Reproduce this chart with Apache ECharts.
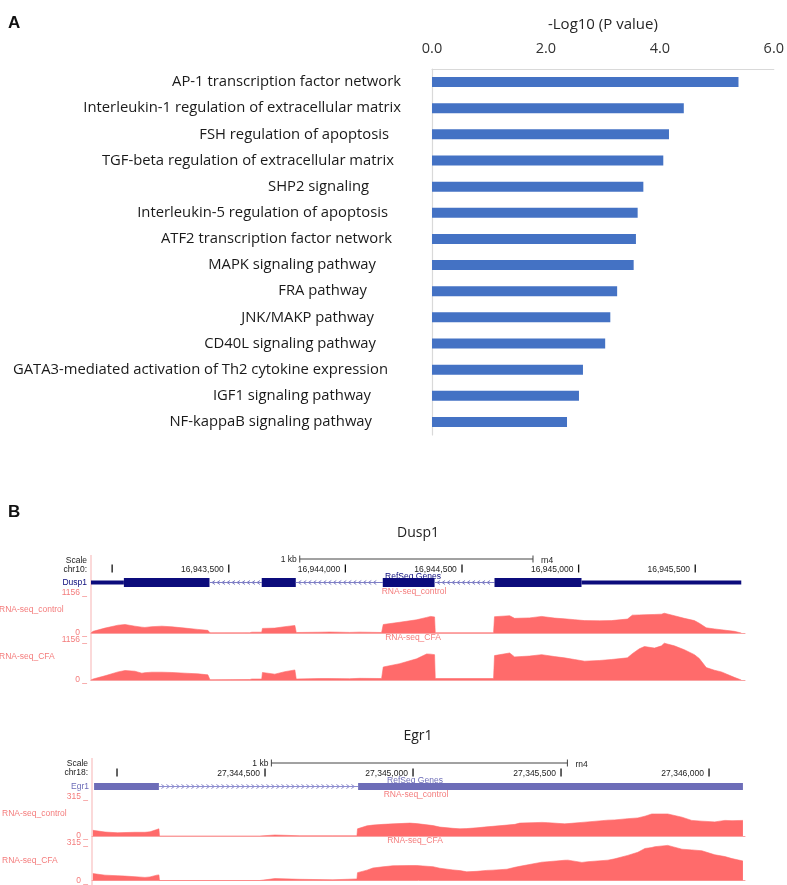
<!DOCTYPE html>
<html><head><meta charset="utf-8">
<script src="https://cdn.jsdelivr.net/npm/echarts@6/dist/echarts.min.js"></script>
<style>html,body{margin:0;padding:0;background:#fff}#c{width:787px;height:885px}</style>
</head><body><div id="c"></div>
<script>
// ---------- Panel A data ----------
const pathways = [
  'AP-1 transcription factor network',
  'Interleukin-1 regulation of extracellular matrix',
  'FSH regulation of apoptosis',
  'TGF-beta regulation of extracellular matrix',
  'SHP2 signaling',
  'Interleukin-5 regulation of apoptosis',
  'ATF2 transcription factor network',
  'MAPK signaling pathway',
  'FRA pathway',
  'JNK/MAKP pathway',
  'CD40L signaling pathway',
  'GATA3-mediated activation of Th2 cytokine expression',
  'IGF1 signaling pathway',
  'NF-kappaB signaling pathway'
];
const negLog10P = [5.38, 4.42, 4.16, 4.06, 3.71, 3.61, 3.58, 3.54, 3.25, 3.13, 3.04, 2.65, 2.58, 2.37];
const pAxisName = '-Log10 (P value)';

// ---------- Panel B data ----------
const trackNames = ['RNA-seq_control', 'RNA-seq_CFA'];
const assembly = 'rn4';
const scaleLabel = '1 kb';

// Dusp1 (chr10)
const dusp1Chrom = 'chr10:';
const dusp1RegionStart = 16942910, dusp1RegionEnd = 16945714;
const dusp1Max = 1156;
const dusp1Ticks = [16943000, 16943500, 16944000, 16944500, 16945000, 16945500];
const dusp1ScaleBar = [16943805, 16944805];
const dusp1Cds = [[141, 508], [732, 878], [1251, 1473], [1730, 2103]];
const dusp1Utr = [[0, 141], [2103, 2788]];
const dusp1CovPos = [0, 9, 60, 116, 146, 188, 218, 231, 261, 304, 347, 403, 458, 501, 508, 510, 681, 690, 732, 735,
  788, 831, 874, 878, 880, 981, 1024, 1109, 1152, 1246, 1251, 1253, 1323, 1396, 1439, 1456, 1473, 1476, 1726, 1730,
  1795, 1816, 1880, 1932, 1987, 2030, 2073, 2116, 2180, 2231, 2300, 2321, 2351, 2373, 2416, 2446, 2458, 2501, 2544, 2587,
  2608, 2638, 2673, 2703, 2758, 2788];
const dusp1Ctrl = [0, 48, 141, 226, 245, 197, 169, 161, 183, 197, 178, 141, 104, 76, 76, 6, 8, 23, 23, 133,
  141, 183, 217, 217, 14, 23, 28, 17, 25, 14, 14, 245, 310, 381, 451, 479, 465, 8, 8, 471,
  499, 423, 437, 479, 431, 409, 386, 358, 353, 358, 403, 516, 522, 527, 536, 544, 572, 499, 423, 358,
  282, 149, 118, 93, 48, 0];
const dusp1Cfa = [0, 28, 121, 234, 274, 254, 197, 212, 226, 226, 217, 197, 178, 149, 149, 8, 14, 28, 28, 217,
  169, 240, 290, 290, 28, 42, 42, 37, 48, 42, 42, 375, 471, 612, 753, 747, 733, 42, 42, 705,
  781, 668, 691, 733, 677, 640, 592, 544, 564, 592, 640, 761, 902, 967, 922, 987, 1063, 987, 874, 733,
  620, 358, 282, 234, 76, 0];

// Egr1 (chr18)
const egr1Chrom = 'chr18:';
const egr1RegionStart = 27343916, egr1RegionEnd = 27346122;
const egr1Max = 315;
const egr1Ticks = [27344000, 27344500, 27345000, 27345500, 27346000];
const egr1ScaleBar = [27344522, 27345522];
const egr1Cds = [[7, 226], [899, 2199]];
const egr1Utr = [];
const egr1CovPos = [3, 44, 87, 111, 145, 179, 196, 219, 226, 228, 567, 571, 618, 621, 702, 814, 895, 897, 929, 949,
  983, 1017, 1074, 1097, 1118, 1152, 1175, 1219, 1243, 1266, 1300, 1334, 1354, 1402, 1429, 1445, 1520, 1540, 1597, 1608,
  1655, 1675, 1743, 1766, 1810, 1844, 1868, 1891, 1901, 1945, 1993, 2026, 2060, 2104, 2138, 2162, 2199];
const egr1Ctrl = [46, 32, 26, 28, 30, 30, 34, 52, 58, 0, 0, 8, 8, 2, 2, 2, 2, 58, 82, 88,
  94, 98, 104, 100, 94, 84, 72, 62, 58, 60, 66, 74, 78, 88, 94, 104, 110, 108, 98, 100,
  110, 114, 128, 130, 140, 146, 160, 178, 178, 178, 152, 126, 120, 114, 126, 124, 126];
const egr1Cfa = [58, 45, 40, 37, 32, 26, 30, 45, 47, 0, 0, 16, 16, 14, 10, 6, 13, 66, 87, 105,
  115, 124, 126, 126, 122, 116, 103, 89, 83, 73, 77, 85, 87, 95, 111, 119, 154, 158, 170, 171,
  152, 158, 171, 182, 211, 237, 269, 277, 284, 295, 263, 257, 250, 216, 201, 184, 164];

// ---------- styles / helpers ----------
const SANS = 'Liberation Sans, Arial, sans-serif';
const OPEN = 'Open Sans, Noto Sans, sans-serif';
const PINK = '#f47c7c';
const COV = '#ff6b6b';
const LINEPINK = '#f7b3b3';
const NAVY = '#0c0c7c';
const LAV = '#6d6db8';
// extra right gap (px) of each category label, as laid out in the original figure
const labelRightGap = [0, 0, 12, 7, 32, 13, 9, 25, 34, 27, 25, 13, 30, 29];

function covData(start, pos, vals) { return pos.map((p, i) => [start + p, vals[i]]); }
function geneBlocks(start, cds, utr) {
  const ex = cds.map(b => [b[0], b[1], 1]).concat(utr.map(b => [b[0], b[1], 0])).sort((a, b) => a[0] - b[0]);
  const out = [];
  ex.forEach((b, i) => {
    if (i > 0 && b[0] > ex[i - 1][1]) out.push([start + ex[i - 1][1], start + b[0], 2]);
    out.push([start + b[0], start + b[1], b[2]]);
  });
  return out;
}
const ROW_SCALE = 6, ROW_RULER = 15.5, ROW_GENE = 29.5;
function geneRender(color, intronColor, cdsH, utrH, dir) {
  return function (params, api) {
    const s = api.coord([api.value(0), ROW_GENE]);
    const e = api.coord([api.value(1), ROW_GENE]);
    const kind = api.value(2);
    if (kind === 2) {
      const ch = [{ type: 'line', shape: { x1: s[0], y1: s[1], x2: e[0], y2: e[1] }, style: { stroke: intronColor, lineWidth: 1 } }];
      for (let x = s[0] + 4; x < e[0] - 3; x += 5) {
        ch.push({ type: 'polyline', shape: { points: [[x - dir * 1.5, s[1] - 2], [x + dir * 1.5, s[1]], [x - dir * 1.5, s[1] + 2]] },
          style: { stroke: intronColor, fill: null, lineWidth: 1 } });
      }
      return { type: 'group', children: ch };
    }
    const h = kind === 1 ? cdsH : utrH;
    return { type: 'rect', shape: { x: s[0], y: s[1] - h / 2, width: e[0] - s[0], height: h }, style: { fill: color } };
  };
}
function rulerRender(params, api) {
  const p = api.coord([api.value(0), ROW_RULER]);
  const ch = [{ type: 'rect', shape: { x: p[0] - 0.5, y: p[1] - 4, width: 1.3, height: 8 }, style: { fill: '#111' } }];
  if (params.dataIndex > 0) {
    ch.push({ type: 'text', style: { text: api.value(0).toLocaleString('en-US'), x: p[0] - 5, y: p[1] + 1,
      align: 'right', verticalAlign: 'middle', font: '8.5px ' + SANS, fill: '#222' } });
  }
  return { type: 'group', children: ch };
}
function scaleRender(params, api) {
  const a = api.coord([api.value(0), ROW_SCALE]);
  const b = api.coord([api.value(1), ROW_SCALE]);
  return { type: 'group', children: [
    { type: 'line', shape: { x1: a[0], y1: a[1], x2: b[0], y2: b[1] }, style: { stroke: '#444', lineWidth: 1 } },
    { type: 'line', shape: { x1: a[0], y1: a[1] - 3.5, x2: a[0], y2: a[1] + 3.5 }, style: { stroke: '#444', lineWidth: 1 } },
    { type: 'line', shape: { x1: b[0], y1: b[1] - 3.5, x2: b[0], y2: b[1] + 3.5 }, style: { stroke: '#444', lineWidth: 1 } },
    { type: 'text', style: { text: scaleLabel, x: a[0] - 3, y: a[1] + 0.5, align: 'right', verticalAlign: 'middle', font: '8.5px ' + SANS, fill: '#222' } },
    { type: 'text', style: { text: assembly, x: b[0] + 8, y: b[1] + 2, align: 'left', verticalAlign: 'middle', font: '8.5px ' + SANS, fill: '#222' } }
  ] };
}

// ---------- layout ----------
const blocks = [
  { start: dusp1RegionStart, end: dusp1RegionEnd, left: 91, width: 654, headTop: 553, tracks: [[593, 40], [640, 40]], max: dusp1Max },
  { start: egr1RegionStart, end: egr1RegionEnd, left: 92, width: 653, headTop: 757, tracks: [[797, 39], [843, 40]], max: egr1Max }
];

const grid = [{ left: 432, top: 69, width: 345, height: 366 }];
const xAxis = [{
  gridIndex: 0, type: 'value', position: 'top', min: 0, max: 6, interval: 2,
  name: pAxisName, nameLocation: 'middle', nameGap: 37,
  nameTextStyle: { fontFamily: OPEN, fontSize: 15, color: '#262626' },
  axisLabel: { formatter: v => v.toFixed(1), fontFamily: OPEN, fontSize: 14.5, color: '#333', margin: 13 },
  axisLine: { show: true, lineStyle: { color: '#d9d9d9', width: 1.2 } },
  axisTick: { show: false }, splitLine: { show: false }
}];
const yAxis = [{
  gridIndex: 0, type: 'category', inverse: true,
  data: pathways.map((p, i) => ({ value: p, textStyle: { padding: [0, labelRightGap[i], 0, 0] } })),
  axisLabel: { fontFamily: OPEN, fontSize: 14.8, color: '#1a1a1a', margin: 31 },
  axisLine: { show: true, lineStyle: { color: '#d9d9d9', width: 1.2 } },
  axisTick: { show: false }
}];
const series = [{
  type: 'bar', xAxisIndex: 0, yAxisIndex: 0, data: negLog10P, barWidth: 10,
  itemStyle: { color: '#4472c4' }, silent: true
}];

const covSets = [[dusp1CovPos, dusp1Ctrl, dusp1Cfa], [egr1CovPos, egr1Ctrl, egr1Cfa]];
const geneSets = [
  { cds: dusp1Cds, utr: dusp1Utr, color: NAVY, intron: '#7f7fc6', cdsH: 9, utrH: 4, dir: -1 },
  { cds: egr1Cds, utr: egr1Utr, color: LAV, intron: '#8d8dcf', cdsH: 7, utrH: 4, dir: 1 }
];
const tickSets = [dusp1Ticks, egr1Ticks];
const scaleSets = [dusp1ScaleBar, egr1ScaleBar];

blocks.forEach((b, bi) => {
  const gi = grid.length;
  grid.push({ left: b.left, top: b.headTop, width: b.width, height: 37 });
  xAxis.push({ gridIndex: gi, type: 'value', min: b.start, max: b.end, show: false });
  yAxis.push({ gridIndex: gi, type: 'value', min: 0, max: 37, inverse: true, show: false });
  const gs = geneSets[bi];
  series.push({ type: 'custom', xAxisIndex: gi, yAxisIndex: gi, clip: false, silent: true,
    renderItem: geneRender(gs.color, gs.intron, gs.cdsH, gs.utrH, gs.dir),
    data: geneBlocks(b.start, gs.cds, gs.utr) });
  series.push({ type: 'custom', xAxisIndex: gi, yAxisIndex: gi, clip: false, silent: true,
    renderItem: rulerRender, data: tickSets[bi].map(t => [t]) });
  series.push({ type: 'custom', xAxisIndex: gi, yAxisIndex: gi, clip: false, silent: true,
    renderItem: scaleRender, data: [scaleSets[bi]] });
  b.tracks.forEach((t, ti) => {
    const ci = grid.length;
    grid.push({ left: b.left, top: t[0], width: b.width, height: t[1] });
    xAxis.push({ gridIndex: ci, type: 'value', min: b.start, max: b.end,
      axisLine: { show: true, lineStyle: { color: '#f9a3a3', width: 1 } },
      axisTick: { show: false }, axisLabel: { show: false }, splitLine: { show: false } });
    yAxis.push({ gridIndex: ci, type: 'value', min: 0, max: b.max, interval: b.max,
      axisLabel: { formatter: v => v + ' _', color: PINK, fontFamily: SANS, fontSize: 8.5, margin: 4 },
      axisLine: { show: false }, axisTick: { show: false }, splitLine: { show: false } });
    const cs = covSets[bi];
    series.push({ type: 'line', xAxisIndex: ci, yAxisIndex: ci, data: covData(b.start, cs[0], cs[ti + 1]),
      symbol: 'none', lineStyle: { width: 0.6, color: COV }, areaStyle: { color: COV, opacity: 1 }, silent: true });
  });
});

function T(text, x, y, align, font, fill) {
  return { type: 'text', x: x, y: y, silent: true, style: { text: text, align: align, verticalAlign: 'middle', font: font, fill: fill } };
}
const small = '8.5px ' + SANS;
const graphic = [
  T('A', 8, 23, 'left', 'bold 17px ' + SANS, '#111'),
  T('B', 8, 512, 'left', 'bold 17px ' + SANS, '#111'),
  T('Dusp1', 418, 533, 'center', '14px ' + OPEN, '#222'),
  T('Egr1', 418, 736, 'center', '14px ' + OPEN, '#222'),
  T('Scale', 87, 561, 'right', small, '#222'),
  T(dusp1Chrom, 87, 570, 'right', small, '#222'),
  T('Dusp1', 87, 583, 'right', small, NAVY),
  T('RefSeq Genes', 413, 577, 'center', small, NAVY),
  T(trackNames[0], 414, 592, 'center', small, PINK),
  T(trackNames[1], 413, 638, 'center', small, PINK),
  T(trackNames[0], -1, 610, 'left', small, PINK),
  T(trackNames[1], -1, 657, 'left', small, PINK),
  T('Scale', 88, 764, 'right', small, '#222'),
  T(egr1Chrom, 88, 773, 'right', small, '#222'),
  T('Egr1', 89, 787, 'right', small, LAV),
  T('RefSeq Genes', 415, 781, 'center', small, LAV),
  T(trackNames[0], 416, 795, 'center', small, PINK),
  T(trackNames[1], 415, 841, 'center', small, PINK),
  T(trackNames[0], 2, 814, 'left', small, PINK),
  T(trackNames[1], 2, 861, 'left', small, PINK),
  { type: 'line', silent: true, shape: { x1: 91, y1: 555, x2: 91, y2: 681 }, style: { stroke: LINEPINK, lineWidth: 1 } },
  { type: 'line', silent: true, shape: { x1: 92, y1: 758, x2: 92, y2: 885 }, style: { stroke: LINEPINK, lineWidth: 1 } }
];

const chart = echarts.init(document.getElementById('c'), null, { renderer: 'canvas' });
chart.setOption({ animation: false, backgroundColor: '#fff', grid, xAxis, yAxis, series, graphic });
</script></body></html>
